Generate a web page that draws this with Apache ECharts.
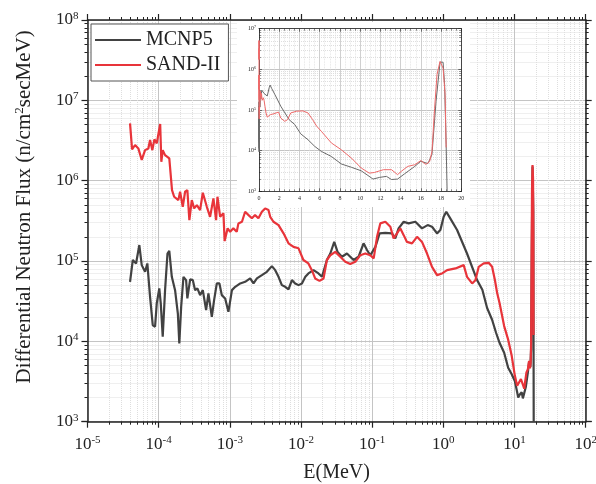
<!DOCTYPE html>
<html>
<head>
<meta charset="utf-8">
<script src="https://cdn.jsdelivr.net/npm/echarts@6/dist/echarts.min.js"></script>
<style>
html, body { margin: 0; padding: 0; background: #fff; }
#chart { width: 596px; height: 484px; }
</style>
</head>
<body>
<div id="chart"></div>
<script>
// MCNP5 spectrum (energy in MeV, flux in n/cm2 s MeV)
var mcnpE = [3.96e-5, 4.33e-5, 4.81e-5, 5.35e-5, 5.78e-5, 6.44e-5, 6.93e-5, 7.57e-5, 8.26e-5, 8.9e-5,
    9.4e-5, 1.02e-4, 1.07e-4, 1.14e-4, 1.23e-4, 1.33e-4, 1.41e-4, 1.53e-4, 1.7e-4, 1.86e-4,
    1.95e-4, 2.07e-4, 2.23e-4, 2.43e-4, 2.53e-4, 2.77e-4, 3.02e-4, 3.25e-4, 3.5e-4, 3.82e-4,
    4.17e-4, 4.64e-4, 5e-4, 5.58e-4, 6.01e-4, 6.56e-4, 7.14e-4, 7.71e-4, 8.59e-4, 9.55e-4,
    1.07e-3, 1.19e-3, 1.4e-3, 1.64e-3, 1.93e-3, 2.15e-3, 2.4e-3, 2.82e-3, 3.31e-3, 3.9e-3,
    4.34e-3, 4.83e-3, 5.38e-3, 6e-3, 6.67e-3, 7.45e-3, 8.28e-3, 9.23e-3, 1.03e-2, 1.15e-2,
    1.27e-2, 1.5e-2, 1.76e-2, 1.97e-2, 2.31e-2, 2.58e-2, 2.93e-2, 3.26e-2, 3.76e-2, 4.42e-2,
    4.92e-2, 5.47e-2, 6.44e-2, 7.57e-2, 8.45e-2, 9.4e-2, 0.111, 0.127, 0.153, 0.19,
    0.211, 0.235, 0.277, 0.325, 0.404, 0.501, 0.601, 0.693, 0.815, 0.908,
    1.01, 1.1, 1.25, 1.56, 2.15, 2.98, 3.53, 4.12, 4.84, 5.5,
    6.16, 7.15, 8.14, 9.13, 10.1, 10.77, 11.27, 11.93, 12.6, 13.1,
    13.7, 14.4, 15.4, 16.0, 16.7, 17.1, 17.5, 17.9, 18.2, 18.35,
    18.5, 18.6];
var mcnpFlux = [5.51e4, 1.03e5, 9.33e4, 1.58e5, 8.89e4, 7.34e4, 9.33e4, 3.58e4, 1.59e4, 1.52e4,
    2.97e4, 4.56e4, 2.97e4, 1.14e4, 4.34e4, 1.24e5, 1.34e5, 6.36e4, 4.34e4, 2.22e4,
    9.4e3, 2.69e4, 6.36e4, 5.78e4, 3.42e4, 5.9e4, 5.78e4, 4.34e4, 4.56e4, 3.76e4,
    4.34e4, 2.45e4, 3.95e4, 2.02e4, 3.26e4, 5.26e4, 5.26e4, 3.76e4, 3.42e4, 2.33e4,
    4.34e4, 4.77e4, 5.26e4, 5.51e4, 6.07e4, 5.26e4, 6.07e4, 6.67e4, 7.34e4, 8.64e4,
    7.7e4, 6.36e4, 5.01e4, 4.77e4, 4.43e4, 5.78e4, 5.26e4, 5.01e4, 5.26e4, 6.36e4,
    7.01e4, 7.7e4, 7.01e4, 6.36e4, 1.03e5, 1.24e5, 1.73e5, 1.3e5, 1.13e5, 1.24e5,
    1.13e5, 1.03e5, 1.13e5, 1.66e5, 1.37e5, 1.18e5, 1.5e5, 2.21e5, 2.24e5, 2.21e5,
    1.91e5, 2.55e5, 3.08e5, 2.94e5, 3.08e5, 2.55e5, 2.8e5, 2.67e5, 2.21e5, 2.43e5,
    3.55e5, 4.1e5, 3.4e5, 2.43e5, 1.24e5, 5.78e4, 4.4e4, 2.6e4, 1.86e4, 1.28e4,
    9.6e3, 7.2e3, 4.7e3, 3.9e3, 3.2e3, 2.45e3, 2.0e3, 2.2e3, 2.33e3, 1.95e3,
    2.0e3, 2.7e3, 4.1e3, 5.5e3, 4.8e3, 8e3, 1.6e5, 1.5e6, 1.5e6, 4.2e5,
    1.4e4, 1e3];

// SAND-II unfolded spectrum
var sandE = [3.96e-5, 4.23e-5, 4.66e-5, 5.18e-5, 5.78e-5, 6.44e-5, 7.16e-5, 7.57e-5, 8.15e-5, 8.71e-5,
    9.4e-5, 1.05e-4, 1.09e-4, 1.14e-4, 1.23e-4, 1.41e-4, 1.54e-4, 1.65e-4, 1.89e-4, 2e-4,
    2.18e-4, 2.35e-4, 2.53e-4, 2.7e-4, 2.92e-4, 3.15e-4, 3.44e-4, 3.82e-4, 4.17e-4, 4.75e-4,
    5.28e-4, 5.88e-4, 6.41e-4, 6.7e-4, 7.31e-4, 8.13e-4, 8.45e-4, 9.31e-4, 1.01e-3, 1.12e-3,
    1.25e-3, 1.32e-3, 1.48e-3, 1.64e-3, 1.83e-3, 2.04e-3, 2.26e-3, 2.52e-3, 2.82e-3, 3.13e-3,
    3.49e-3, 3.69e-3, 4.1e-3, 4.83e-3, 5.68e-3, 6.67e-3, 7.85e-3, 9.23e-3, 1.08e-2, 1.27e-2,
    1.42e-2, 1.58e-2, 1.82e-2, 2.07e-2, 2.31e-2, 2.58e-2, 3.03e-2, 3.56e-2, 4.19e-2, 4.92e-2,
    5.78e-2, 6.8e-2, 8e-2, 9.4e-2, 0.105, 0.117, 0.13, 0.153, 0.18, 0.2,
    0.223, 0.248, 0.277, 0.308, 0.363, 0.427, 0.501, 0.59, 0.693, 0.815,
    0.959, 1.13, 1.48, 1.93, 2.15, 2.54, 2.82, 3.14, 3.69, 4.34,
    4.84, 5.3, 5.7, 6.16, 7.15, 8.14, 9.13, 10.1, 10.9, 11.4,
    12.3, 13.1, 13.7, 14.07, 14.7, 15.4, 16.0, 16.5, 16.87, 17.1,
    17.36, 17.6, 17.9, 18.2, 18.4, 18.5];
var sandFlux = [5.17e6, 2.45e6, 2.78e6, 2.52e6, 1.81e6, 2.4e6, 2.52e6, 3.2e6, 2.4e6, 3.27e6,
    2.91e6, 5.07e6, 1.72e6, 2.4e6, 2.08e6, 1.9e6, 7.64e5, 6.31e5, 5.73e5, 7.28e5,
    4.73e5, 7.28e5, 7.64e5, 3.23e5, 5.73e5, 4.52e5, 4.97e5, 4.31e5, 7.07e5, 4.73e5,
    3.55e5, 6.02e5, 3.23e5, 6.31e5, 3.55e5, 3.92e5, 1.77e5, 2.55e5, 2.31e5, 2.55e5,
    2.31e5, 2.94e5, 3.08e5, 4.1e5, 3.73e5, 3.4e5, 3.73e5, 3.4e5, 4.1e5, 4.52e5,
    4.31e5, 3.55e5, 3.08e5, 2.8e5, 2.21e5, 1.66e5, 1.5e5, 1.44e5, 1.03e5, 9.33e4,
    7.7e4, 6.07e4, 5.66e4, 6.07e4, 1.03e5, 1.18e5, 1.3e5, 1.13e5, 9.77e4, 9.15e4,
    9.77e4, 1.18e5, 1.24e5, 1.18e5, 1.08e5, 2e5, 2.94e5, 3.08e5, 2.67e5, 1.91e5,
    2.21e5, 2.55e5, 2.1e5, 1.73e5, 1.66e5, 2e5, 1.73e5, 1.24e5, 8.47e4, 6.67e4,
    7.01e4, 7.7e4, 8.09e4, 8.89e4, 6.36e4, 5.26e4, 5.78e4, 8.47e4, 9.33e4, 9.5e4,
    8.47e4, 5.8e4, 4e4, 3e4, 1.55e4, 1.05e4, 6.6e3, 3.75e3, 2.8e3, 2.9e3,
    3.4e3, 3.4e3, 2.57e3, 3.1e3, 4.1e3, 4.5e3, 5.7e3, 4.6e3, 5.4e3, 9.5e3,
    1.1e5, 7.5e5, 1.57e6, 1.07e6, 2.4e5, 1.2e4];

var seriesNames = ['MCNP5', 'SAND-II'];
var seriesColors = ['#424242', '#e8343a'];
var insetColors = ['#6a6a6a', '#ee6a6a'];

var serif = 'Liberation Serif';

function pairs(xs, ys) {
    var out = [];
    for (var i = 0; i < xs.length; i++) out.push([xs[i], ys[i]]);
    return out;
}

// 10^n labels
function powLabel(v) {
    var e = Math.round(Math.log10(v));
    return '{b|10}{s|' + e + '}';
}

function logAxis(opt) {
    var big = opt.big;
    var ax = {
        type: 'log',
        logBase: 10,
        gridIndex: opt.grid,
        position: opt.position,
        min: opt.min,
        max: opt.max,
        z: opt.z,
        axisLine: { show: true, onZero: false, lineStyle: { color: '#222', width: big ? 1.5 : 0.8 } },
        axisTick: { show: true, inside: !big, length: big ? 6 : 3, lineStyle: { color: '#222', width: big ? 1.2 : 0.6 } },
        minorTick: { show: true, splitNumber: 9, length: big ? 3 : 2, lineStyle: { color: '#222', width: big ? 1 : 0.5 } },
        splitLine: { show: opt.labels, lineStyle: { color: '#c4c4c4', width: 1 } },
        minorSplitLine: { show: opt.labels, lineStyle: { color: '#dedede', type: 'dotted', width: 1 } },
        axisLabel: { show: opt.labels }
    };
    if (opt.labels) {
        ax.axisLabel = {
            show: true,
            margin: big ? (opt.position === 'bottom' ? 13 : 9) : 3,
            color: '#222',
            fontFamily: serif,
            formatter: powLabel,
            rich: {
                b: { fontSize: big ? 17 : 6, fontFamily: serif, color: '#222' },
                s: { fontSize: big ? 11 : 4, fontFamily: serif, color: '#222', verticalAlign: 'bottom', padding: [0, 0, big ? 8 : 3, 0] }
            }
        };
    }
    return ax;
}

function linAxis(opt) {
    return {
        type: 'value',
        gridIndex: opt.grid,
        position: opt.position,
        min: 0,
        max: 20,
        interval: 2,
        z: opt.z,
        axisLine: { show: true, onZero: false, lineStyle: { color: '#222', width: 0.8 } },
        axisTick: { show: true, inside: true, length: 3, lineStyle: { color: '#222', width: 0.6 } },
        minorTick: { show: true, splitNumber: 4, length: 2, lineStyle: { color: '#222', width: 0.5 } },
        splitLine: { show: opt.labels, lineStyle: { color: '#c4c4c4', width: 0.8 } },
        minorSplitLine: { show: opt.labels, lineStyle: { color: '#dedede', type: 'dotted', width: 0.8 } },
        axisLabel: { show: opt.labels, margin: 4, fontSize: 6, fontFamily: serif, color: '#222' }
    };
}

var chart = echarts.init(document.getElementById('chart'), null, { renderer: 'canvas' });

var xMain = logAxis({ grid: 0, position: 'bottom', min: 1e-5, max: 1e2, labels: true, big: true, z: 0 });
xMain.name = 'E(MeV)';
xMain.nameLocation = 'middle';
xMain.nameGap = 41;
xMain.nameTextStyle = { fontFamily: serif, fontSize: 20, color: '#222' };

var yMain = logAxis({ grid: 0, position: 'left', min: 1e3, max: 1e8, labels: true, big: true, z: 0 });
yMain.name = 'Differential Neutron Flux (n/cm{p|2}secMeV)';
yMain.nameLocation = 'middle';
yMain.nameGap = 52;
yMain.nameTextStyle = {
    fontFamily: serif, fontSize: 21, color: '#222',
    padding: [0, 0, 0, 28],
    rich: { p: { fontFamily: serif, fontSize: 13, color: '#222', verticalAlign: 'bottom', padding: [0, 0, 9, 0] } }
};

var option = {
    backgroundColor: '#fff',
    animation: false,
    grid: [
        { left: 87.5, top: 20, right: 10.3, bottom: 62.3, outerBoundsMode: 'none' },
        { left: 259, top: 28.7, width: 202.3, height: 162.6, outerBoundsMode: 'none' }
    ],
    legend: {
        data: seriesNames,
        orient: 'vertical',
        left: 91,
        top: 24,
        z: 8,
        icon: 'rect',
        itemWidth: 46,
        itemHeight: 2,
        itemGap: 5,
        padding: [6, 8, 6, 4],
        backgroundColor: '#fff',
        borderColor: '#555',
        borderWidth: 1,
        textStyle: { fontFamily: serif, fontSize: 20, color: '#222' }
    },
    graphic: [{
        type: 'rect',
        z: 3,
        shape: { x: 237, y: 22, width: 233, height: 185 },
        style: { fill: '#fff' }
    }],
    xAxis: [
        xMain,
        logAxis({ grid: 0, position: 'top', min: 1e-5, max: 1e2, labels: false, big: true, z: 0 }),
        linAxis({ grid: 1, position: 'bottom', labels: true, z: 4 }),
        linAxis({ grid: 1, position: 'top', labels: false, z: 4 })
    ],
    yAxis: [
        yMain,
        logAxis({ grid: 0, position: 'right', min: 1e3, max: 1e8, labels: false, big: true, z: 0 }),
        logAxis({ grid: 1, position: 'left', min: 1e3, max: 1e7, labels: true, big: false, z: 4 }),
        logAxis({ grid: 1, position: 'right', min: 1e3, max: 1e7, labels: false, big: false, z: 4 })
    ],
    series: [
        {
            name: seriesNames[0], type: 'line', xAxisIndex: 0, yAxisIndex: 0, z: 2,
            symbol: 'none', clip: true, color: seriesColors[0],
            lineStyle: { width: 2.2, color: seriesColors[0] },
            data: pairs(mcnpE, mcnpFlux)
        },
        {
            name: seriesNames[1], type: 'line', xAxisIndex: 0, yAxisIndex: 0, z: 2,
            symbol: 'none', clip: true, color: seriesColors[1],
            lineStyle: { width: 2.2, color: seriesColors[1] },
            data: pairs(sandE, sandFlux)
        },
        {
            name: seriesNames[0], type: 'line', xAxisIndex: 2, yAxisIndex: 2, z: 5,
            symbol: 'none', clip: true, color: insetColors[0],
            lineStyle: { width: 1, color: insetColors[0] },
            data: pairs(mcnpE, mcnpFlux)
        },
        {
            name: seriesNames[1], type: 'line', xAxisIndex: 2, yAxisIndex: 2, z: 5,
            symbol: 'none', clip: true, color: insetColors[1],
            lineStyle: { width: 1, color: insetColors[1] },
            data: pairs(sandE, sandFlux)
        }
    ]
};

chart.setOption(option);
</script>
</body>
</html>
